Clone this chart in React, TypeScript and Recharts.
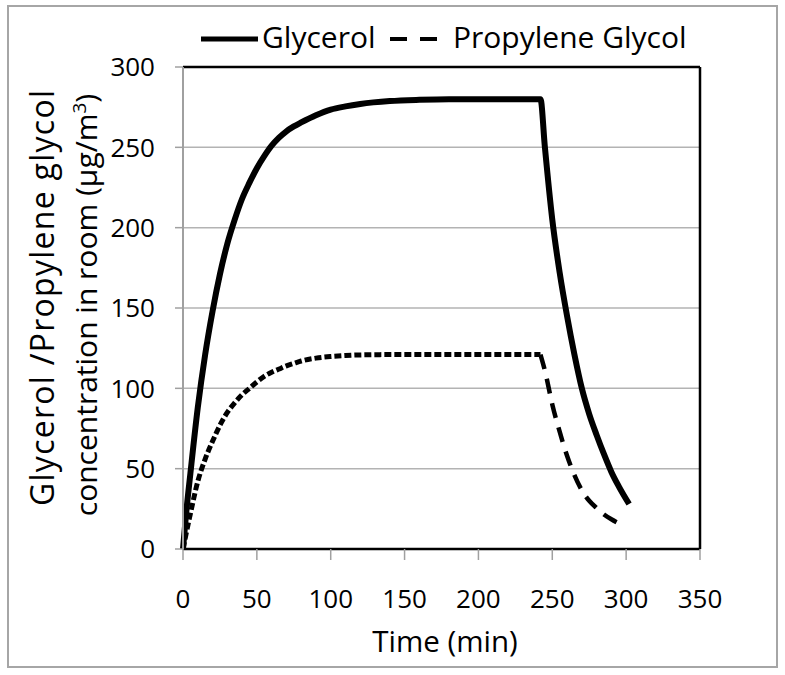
import React from "react";
import {
  LineChart,
  Line,
  XAxis,
  YAxis,
  CartesianGrid,
  ReferenceLine,
  Legend,
} from "recharts";

// time (min)
const TIME = [
  0, 2, 5, 10, 15, 20, 25, 30, 35, 40, 45, 50, 55, 60, 65, 70, 75, 80, 90, 100,
  110, 120, 140, 160, 180, 200, 220, 240, 242, 245, 250, 255, 260, 265, 270,
  275, 280, 285, 290, 295, 302,
];

// µg/m3
const GLYCEROL = [
  0, 21, 47, 88, 121, 148, 171, 190, 205, 218, 228, 237, 244.5, 251, 256, 260,
  263, 265.5, 270, 273.5, 275.5, 277, 278.8, 279.6, 280, 280, 280, 280, 280,
  250, 205, 172, 145, 121, 100, 84, 71, 59, 48, 39, 28,
];

const PROPYLENE_GLYCOL = [
  0, 9, 22, 42, 56, 67, 77, 85, 91, 96, 100, 104, 107.5, 110, 112, 114, 115.5,
  117, 118.8, 119.8, 120.4, 120.8, 121, 121, 121, 121, 121, 121, 121, 111, 90,
  73, 58, 46, 36.5, 30, 25.5, 21.5, 18.5, 16, null,
];

const X_TICKS = [0, 50, 100, 150, 200, 250, 300, 350];
const Y_TICKS = [0, 50, 100, 150, 200, 250, 300];

const STOP_TIME = 242;
const FONT = "'Open Sans', sans-serif";

const data = TIME.map((t, i) => ({
  t,
  glycerol: GLYCEROL[i],
  pgRise: t <= STOP_TIME ? PROPYLENE_GLYCOL[i] : null,
  pgFall: t >= STOP_TIME ? PROPYLENE_GLYCOL[i] : null,
}));

function LegendContent() {
  return (
    <svg width={785} height={70} style={{ display: "block" }}>
      <line x1={201} y1={39} x2={258} y2={39} stroke="#000" strokeWidth={5} />
      <text x={262} y={48} fontFamily={FONT} fontSize={30} fill="#000">
        Glycerol
      </text>
      <line
        x1={390}
        y1={39}
        x2={438}
        y2={39}
        stroke="#000"
        strokeWidth={4}
        strokeDasharray="17 13"
      />
      <text x={453} y={48} fontFamily={FONT} fontSize={30} fill="#000">
        Propylene Glycol
      </text>
    </svg>
  );
}

export default function App() {
  return (
    <div
      style={{
        position: "absolute",
        left: 0,
        top: 0,
        width: 785,
        height: 675,
        background: "#fff",
      }}
    >
      <div
        style={{
          position: "absolute",
          left: 7,
          top: 5,
          width: 771,
          height: 663,
          border: "2px solid #a6a6a6",
          boxSizing: "border-box",
        }}
      />
      <div style={{ position: "absolute", left: 0, top: 0 }}>
        <LineChart
          width={785}
          height={675}
          data={data}
          margin={{ top: 67, right: 85, bottom: 0, left: 0 }}
        >
          <CartesianGrid
            vertical={false}
            stroke="#b3b3b3"
            strokeWidth={1.5}
          />
          <XAxis
            dataKey="t"
            type="number"
            domain={[0, 350]}
            ticks={X_TICKS}
            height={126}
            axisLine={{ stroke: "#000", strokeWidth: 2.5 }}
            tickLine={{ stroke: "#a0a0a0", strokeWidth: 1.5 }}
            tickSize={11}
            tickMargin={30}
            tick={{ fill: "#000", fontSize: 26, fontFamily: FONT }}
          />
          <YAxis
            type="number"
            domain={[0, 300]}
            ticks={Y_TICKS}
            width={183}
            axisLine={{ stroke: "#a0a0a0", strokeWidth: 2 }}
            tickLine={{ stroke: "#a0a0a0", strokeWidth: 1.5 }}
            tickSize={8}
            tickMargin={20}
            tick={{ fill: "#000", fontSize: 26, fontFamily: FONT }}
          />
          <ReferenceLine y={300} stroke="#000" strokeWidth={2.5} />
          <ReferenceLine x={350} stroke="#000" strokeWidth={2.5} />
          <Legend
            layout="horizontal"
            verticalAlign="middle"
            align="center"
            wrapperStyle={{ top: 0, left: 0, width: 785, height: 70 }}
            content={() => <LegendContent />}
          />
          <Line
            dataKey="glycerol"
            name="Glycerol"
            type="monotone"
            stroke="#000"
            strokeWidth={6}
            dot={false}
            isAnimationActive={false}
          />
          <Line
            dataKey="pgRise"
            name="Propylene Glycol"
            type="monotone"
            stroke="#000"
            strokeWidth={5}
            strokeDasharray="7 3"
            dot={false}
            isAnimationActive={false}
          />
          <Line
            dataKey="pgFall"
            name="Propylene Glycol (after stop)"
            type="monotone"
            stroke="#000"
            strokeWidth={4.5}
            strokeDasharray="15 10"
            dot={false}
            isAnimationActive={false}
            legendType="none"
          />
        </LineChart>
      </div>
      <svg
        width={785}
        height={675}
        style={{ position: "absolute", left: 0, top: 0, pointerEvents: "none" }}
      >
        <text
          x={445}
          y={652}
          textAnchor="middle"
          fontFamily={FONT}
          fontSize={29.5}
          fill="#000"
        >
          Time (min)
        </text>
        <text
          x={54}
          y={298}
          transform="rotate(-90 54 298)"
          textAnchor="middle"
          fontFamily={FONT}
          fontSize={32}
          textLength={416}
          lengthAdjust="spacing"
          fill="#000"
        >
          Glycerol /Propylene glycol
        </text>
        <text
          x={97}
          y={305}
          transform="rotate(-90 97 305)"
          textAnchor="middle"
          fontFamily={FONT}
          fontSize={30}
          fill="#000"
        >
          concentration in room (μg/m
          <tspan dy={-11} fontSize={19}>
            3
          </tspan>
          <tspan dy={11}>)</tspan>
        </text>
      </svg>
    </div>
  );
}
